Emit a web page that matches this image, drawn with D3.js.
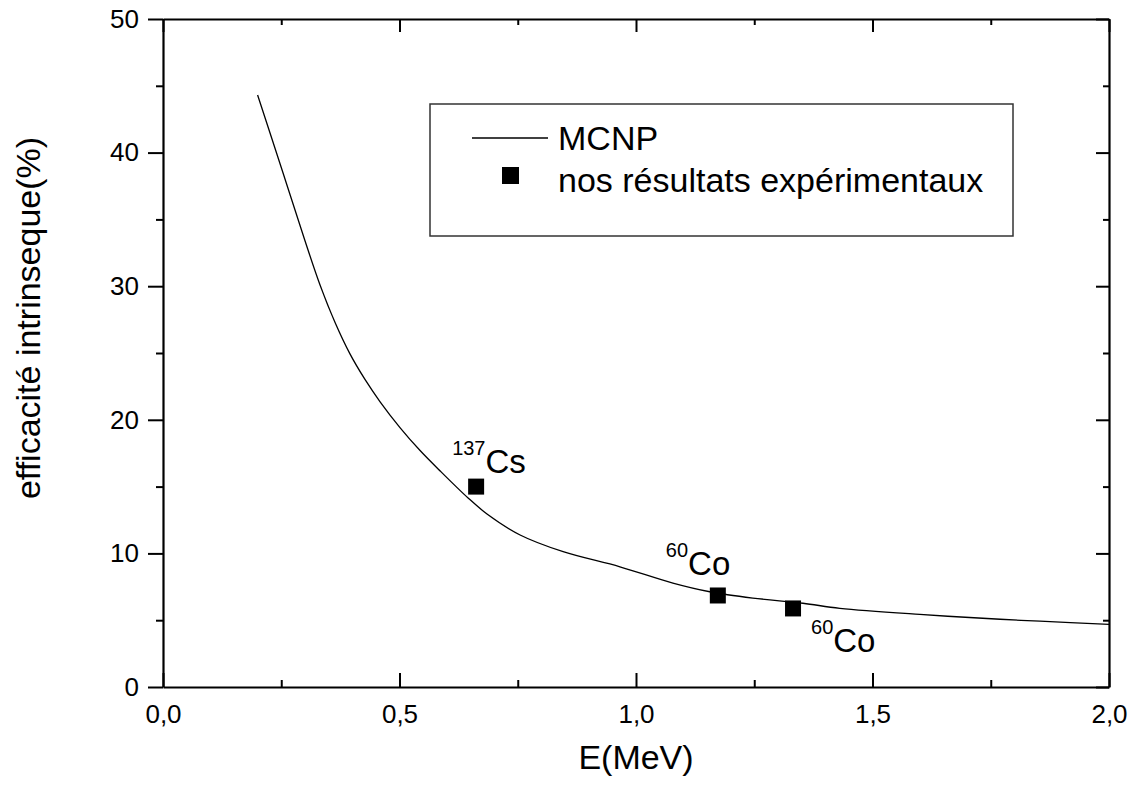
<!DOCTYPE html>
<html>
<head>
<meta charset="utf-8">
<script src="https://cdn.jsdelivr.net/npm/d3@7"></script>
<style>
  html, body { margin: 0; padding: 0; background: #fff; }
  svg { display: block; font-family: Arial, "Liberation Sans", sans-serif; }
</style>
</head>
<body>
<svg id="chart" width="1132" height="785"></svg>
<script>
// MCNP simulated intrinsic efficiency vs gamma energy
const mcnpEnergy = [0.200, 0.254, 0.300, 0.332, 0.364, 0.395, 0.427, 0.459, 0.501, 0.543, 0.586, 0.645, 0.685, 0.755, 0.846, 0.966, 1.078, 1.156, 1.247, 1.353, 1.431, 1.600, 1.770, 1.854, 2.000];
const mcnpEff    = [44.31, 38.45, 33.42, 30.09, 27.26, 24.95, 23.02, 21.35, 19.42, 17.72, 16.17, 14.15, 12.95, 11.38, 10.13, 9.00, 7.78, 7.13, 6.66, 6.27, 5.89, 5.43, 5.07, 4.93, 4.69];

// Measured points
const expEnergy  = [0.662, 1.173, 1.332];
const expEff     = [15.0, 6.85, 5.88];
const expIsotope = ["137", "60", "60"];
const expElement = ["Cs", "Co", "Co"];

const xTickValues = [0, 0.5, 1.0, 1.5, 2.0];
const xTickLabels = ["0,0", "0,5", "1,0", "1,5", "2,0"];
const yTickValues = [0, 10, 20, 30, 40, 50];

const legendLabels = ["MCNP", "nos résultats expérimentaux"];

(function drawChart() {
  const svg = d3.select("#chart");
  const W = 1132, H = 785;
  const m = { left: 163, top: 19, right: 23, bottom: 98 };
  const iw = W - m.left - m.right, ih = H - m.top - m.bottom;

  const x = d3.scaleLinear().domain([0, 2]).range([0, iw]);
  const y = d3.scaleLinear().domain([0, 50]).range([ih, 0]);

  const g = svg.append("g").attr("transform", `translate(${m.left},${m.top})`);

  const minorX = [0.25, 0.75, 1.25, 1.75];
  const minorY = [5, 15, 25, 35, 45];
  const FONT = "Arial, 'Liberation Sans', sans-serif";

  function styleAxis(sel) {
    sel.select(".domain").attr("stroke", "#000").attr("stroke-width", 2.2);
    sel.selectAll(".tick line").attr("stroke", "#000").attr("stroke-width", 2);
    sel.selectAll(".tick text").attr("fill", "#000").style("font-size", "26px").style("font-family", FONT);
  }
  function minorTicks(sel) {
    sel.select(".domain").remove();
    sel.selectAll(".tick line").attr("stroke", "#000").attr("stroke-width", 2);
  }

  // bottom axis (ticks inward)
  const axB = g.append("g").attr("transform", `translate(0,${ih})`)
    .call(d3.axisBottom(x).tickValues(xTickValues).tickSizeInner(-14).tickSizeOuter(0)
      .tickFormat((d, i) => xTickLabels[i]));
  styleAxis(axB);
  axB.selectAll(".tick text").attr("y", 36).attr("dy", 0);
  g.append("g").attr("transform", `translate(0,${ih})`)
    .call(d3.axisBottom(x).tickValues(minorX).tickSizeInner(-7).tickSizeOuter(0).tickFormat(""))
    .call(minorTicks);

  // top axis (ticks inward, no labels)
  const axT = g.append("g")
    .call(d3.axisTop(x).tickValues(xTickValues).tickSizeInner(-13).tickSizeOuter(0).tickFormat(""));
  styleAxis(axT);
  g.append("g")
    .call(d3.axisTop(x).tickValues(minorX).tickSizeInner(-6).tickSizeOuter(0).tickFormat(""))
    .call(minorTicks);

  // left axis (ticks outward)
  const axL = g.append("g")
    .call(d3.axisLeft(y).tickValues(yTickValues).tickSizeInner(15).tickSizeOuter(0).tickPadding(9));
  styleAxis(axL);
  g.append("g")
    .call(d3.axisLeft(y).tickValues(minorY).tickSizeInner(7).tickSizeOuter(0).tickFormat(""))
    .call(minorTicks);

  // right axis (ticks inward, no labels)
  const axR = g.append("g").attr("transform", `translate(${iw},0)`)
    .call(d3.axisRight(y).tickValues(yTickValues).tickSizeInner(-13).tickSizeOuter(0).tickFormat(""));
  styleAxis(axR);
  g.append("g").attr("transform", `translate(${iw},0)`)
    .call(d3.axisRight(y).tickValues(minorY).tickSizeInner(-6).tickSizeOuter(0).tickFormat(""))
    .call(minorTicks);

  // MCNP curve
  const curveData = mcnpEnergy.map((e, i) => [e, mcnpEff[i]]);
  g.append("path")
    .datum(curveData)
    .attr("fill", "none")
    .attr("stroke", "#000")
    .attr("stroke-width", 1.3)
    .attr("d", d3.line().x(d => x(d[0])).y(d => y(d[1])).curve(d3.curveCatmullRom.alpha(0.5)));

  // experimental points
  const sq = 16;
  g.selectAll("rect.pt")
    .data(expEnergy.map((e, i) => ({ e, v: expEff[i] })))
    .join("rect")
    .attr("class", "pt")
    .attr("x", d => x(d.e) - sq / 2)
    .attr("y", d => y(d.v) - sq / 2)
    .attr("width", sq).attr("height", sq)
    .attr("fill", "#000");

  // isotope labels, placed relative to each point
  const labelOffsets = [[-24, -14], [-52, -20], [18, 44]];
  expEnergy.forEach((e, i) => {
    const t = g.append("text")
      .attr("x", x(e) + labelOffsets[i][0])
      .attr("y", y(expEff[i]) + labelOffsets[i][1])
      .attr("fill", "#000")
      .style("font-size", "33px");
    t.append("tspan").text(expIsotope[i]).style("font-size", "20px").attr("dy", -18);
    t.append("tspan").text(expElement[i]).attr("dy", 18);
  });

  // legend
  const lg = svg.append("g").attr("transform", "translate(430,104)");
  lg.append("rect").attr("width", 583).attr("height", 132)
    .attr("fill", "#fff").attr("stroke", "#333").attr("stroke-width", 1.5);
  lg.append("line").attr("x1", 42).attr("x2", 118).attr("y1", 34).attr("y2", 34)
    .attr("stroke", "#000").attr("stroke-width", 1.3);
  lg.append("rect").attr("x", 72).attr("y", 63).attr("width", 17).attr("height", 17).attr("fill", "#000");
  lg.selectAll("text.leg").data(legendLabels).join("text")
    .attr("class", "leg")
    .attr("x", 128)
    .attr("y", (d, i) => 46 + i * 42)
    .attr("fill", "#000")
    .style("font-size", "34px")
    .text(d => d);

  // axis titles
  svg.append("text")
    .attr("x", m.left + iw / 2).attr("y", 769)
    .attr("text-anchor", "middle").attr("fill", "#000")
    .style("font-size", "34px")
    .text("E(MeV)");

  svg.append("text")
    .attr("transform", "translate(40,318) rotate(-90)")
    .attr("text-anchor", "middle").attr("fill", "#000")
    .style("font-size", "34px")
    .text("efficacité intrinseque(%)");
})();
</script>
</body>
</html>
